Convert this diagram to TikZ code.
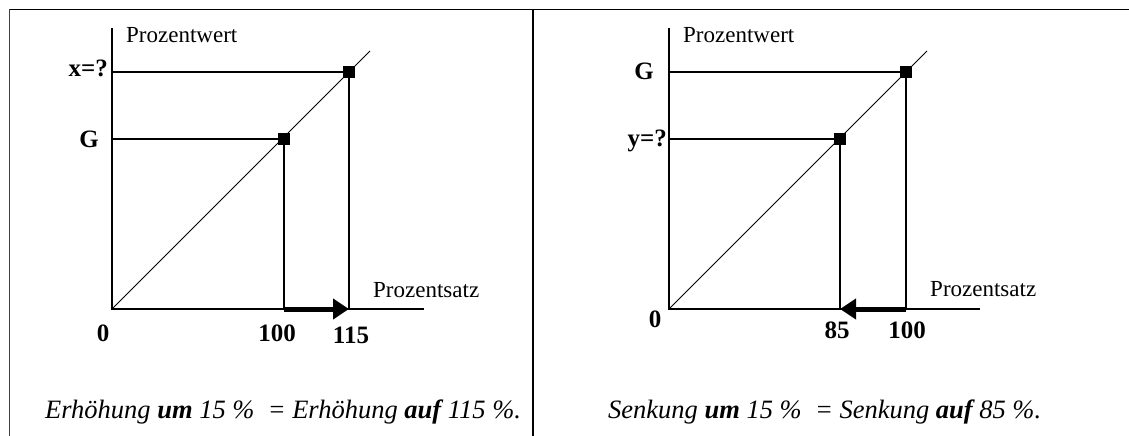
\documentclass[tikz,border=0pt]{standalone}
\usepackage{fontspec}
\setmainfont{Liberation Serif}
\usetikzlibrary{arrows.meta}
\tikzset{
  axislbl/.style={inner sep=0pt, font=\fontsize{23}{27}\selectfont},
  vallbl/.style={inner sep=0pt, font=\fontsize{25}{29}\selectfont\bfseries},
  caption/.style={inner sep=0pt, anchor=base west, font=\fontsize{26.5}{31}\selectfont\itshape},
  axisline/.style={line width=1.5pt},
  helpline/.style={line width=1.3pt},
  diagline/.style={line width=0.9pt},
  pt/.style={fill=black, draw=none, minimum size=12.5pt, inner sep=0pt},
  bigarrow/.style={line width=5pt, -{Triangle[length=16pt,width=20pt]}},
}
\begin{document}
\begin{tikzpicture}[x=1pt,y=-1pt]
\useasboundingbox (0,0) rectangle (1129,436);
% frame
\coordinate (fTL) at (9,9.5);
\coordinate (fTR) at (1129,9.5);
\coordinate (fBL) at (9,436);
\coordinate (dT) at (533,9.5);
\coordinate (dB) at (533,436);
\draw[line width=1.5pt] (fTL) -- (fTR);
\draw[line width=1pt, black!75] (fTL) -- (fBL);
\draw[line width=2.6pt] (dT) -- (dB);

% ===== left chart =====
\coordinate (O1) at (112,309);
\coordinate (Yt1) at (112,28);
\coordinate (Xe1) at (424,309);
\coordinate (De1) at (370,51);
\coordinate (Ya1) at (112,72);
\coordinate (Yb1) at (112,139);
\coordinate (Xa1) at (284,309);
\coordinate (Xb1) at (349,309);
\node[pt] (s1a) at (284,139) {};
\node[pt] (s1b) at (349,72) {};
\draw[axisline] (Yt1) -- (O1) -- (Xe1);
\draw[diagline] (O1) -- (De1);
\draw[helpline] (Yb1) -- (s1a.center) -- (Xa1);
\draw[helpline] (Ya1) -- (s1b.center) -- (Xb1);
\draw[bigarrow] (Xa1) -- (Xb1);
\node[axislbl, anchor=base west] (pw1) at (126,43) {Prozentwert};
\node[axislbl, anchor=base west] (ps1) at (373,297) {Prozentsatz};
\node[vallbl, anchor=base east] (lx) at (108,76) {x=?};
\node[vallbl, anchor=base] (lg1) at (89,147) {G};
\node[vallbl, anchor=base] (l01) at (103,341) {0};
\node[vallbl, anchor=base] (l100a) at (277,341) {100};
\node[vallbl, anchor=base] (l115) at (351,343) {115};
\node[caption] (cap1) at (45,418) {Erhöhung \textbf{um} 15~\%\ \ = Erhöhung \textbf{auf} 115~\%.};

% ===== right chart =====
\coordinate (O2) at (669,309);
\coordinate (Yt2) at (669,28);
\coordinate (Xe2) at (980,309);
\coordinate (De2) at (927,51);
\coordinate (Ya2) at (669,72);
\coordinate (Yb2) at (669,139);
\coordinate (Xa2) at (840,309);
\coordinate (Xb2) at (906,309);
\node[pt] (s2a) at (840,139) {};
\node[pt] (s2b) at (906,72) {};
\draw[axisline] (Yt2) -- (O2) -- (Xe2);
\draw[diagline] (O2) -- (De2);
\draw[helpline] (Yb2) -- (s2a.center) -- (Xa2);
\draw[helpline] (Ya2) -- (s2b.center) -- (Xb2);
\draw[bigarrow] (Xb2) -- (Xa2);
\node[axislbl, anchor=base west] (pw2) at (683,43) {Prozentwert};
\node[axislbl, anchor=base west] (ps2) at (930,296) {Prozentsatz};
\node[vallbl, anchor=base] (lg2) at (644,79) {G};
\node[vallbl, anchor=base east] (ly) at (667,146) {y=?};
\node[vallbl, anchor=base] (l02) at (655,327) {0};
\node[vallbl, anchor=base] (l85) at (837,338) {85};
\node[vallbl, anchor=base] (l100b) at (907,338) {100};
\node[caption] (cap2) at (608,418) {Senkung \textbf{um} 15~\%\ \ = Senkung \textbf{auf} 85~\%.};
\end{tikzpicture}
\end{document}
